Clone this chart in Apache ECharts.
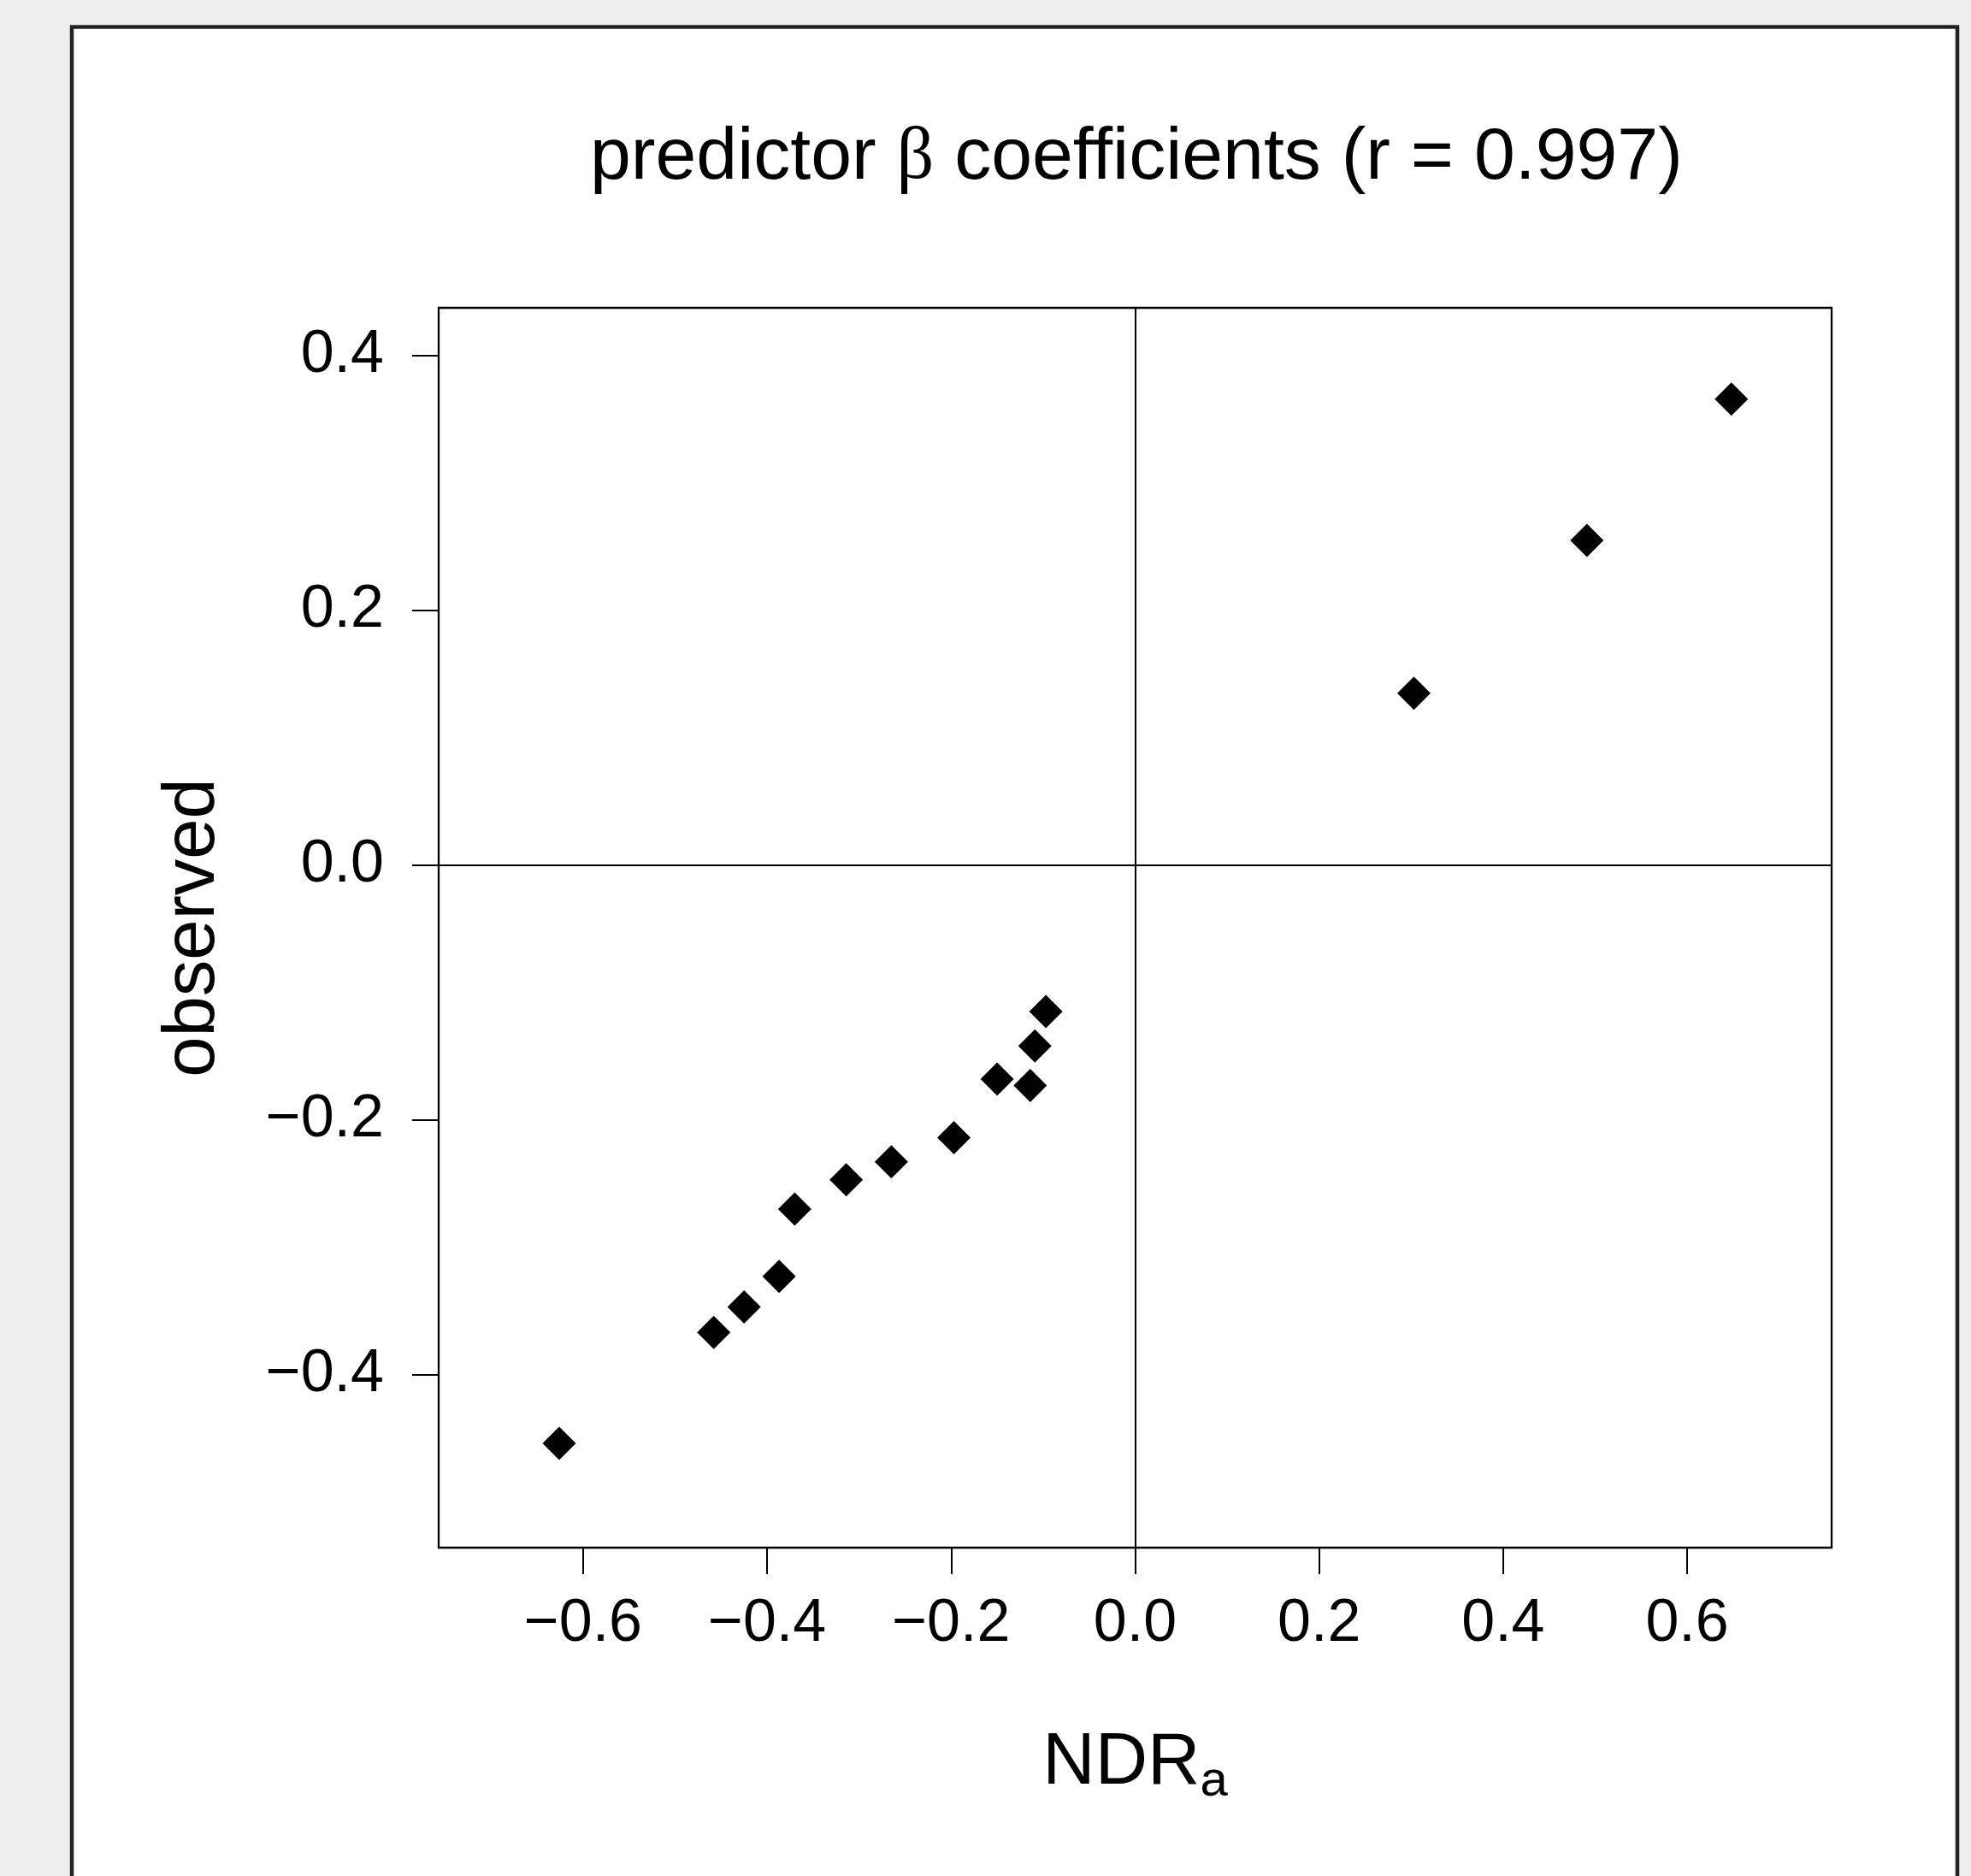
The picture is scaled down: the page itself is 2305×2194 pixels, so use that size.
<!DOCTYPE html>
<html>
<head>
<meta charset="utf-8">
<script src="https://cdn.jsdelivr.net/npm/echarts@6/dist/echarts.min.js"></script>
<style>
html,body{margin:0;padding:0;background:#eeeeee;}
#chart{width:2305px;height:2194px;}
</style>
</head>
<body>
<div id="chart"></div>
<script>
// ---- data ----
var ndrA = [-0.626, -0.458, -0.425, -0.387, -0.370, -0.314, -0.265, -0.197, -0.150, -0.114, -0.109, -0.097, 0.303, 0.491, 0.648];
var observed = [-0.454, -0.367, -0.347, -0.323, -0.270, -0.247, -0.233, -0.214, -0.168, -0.173, -0.142, -0.115, 0.135, 0.255, 0.366];
var xTicks = [-0.6, -0.4, -0.2, 0.0, 0.2, 0.4, 0.6];
var yTicks = [-0.4, -0.2, 0.0, 0.2, 0.4];
var titleParts = ['predictor ', 'β', ' coefficients (r = 0.997)'];
var xTitle = ['NDR', 'a'];
var yTitle = 'observed';

var points = ndrA.map(function (x, i) { return [x, observed[i]]; });
function fmt(v) { return v.toFixed(1).replace('-', '\u2212'); }

var FONT = 'Liberation Sans, Arial, Helvetica, sans-serif';
var chart = echarts.init(document.getElementById('chart'), null, {renderer: 'canvas'});
chart.setOption({
  backgroundColor: '#eeeeee',
  animation: false,
  graphic: [{
    type: 'rect',
    z: -10,
    silent: true,
    shape: {x: 84, y: 31.5, width: 2205, height: 2300},
    style: {fill: '#ffffff', stroke: '#222222', lineWidth: 4.5}
  }],
  title: {
    left: 690,
    top: 142,
    padding: 0,
    text: '{a|' + titleParts[0] + '}{b|' + titleParts[1] + '}{a|' + titleParts[2] + '}',
    textStyle: {
      fontWeight: 'normal',
      rich: {
        a: {fontFamily: FONT, fontSize: 86, fontWeight: 'normal', color: '#000'},
        b: {fontFamily: 'Liberation Serif, Times New Roman, serif', fontSize: 86, fontWeight: 'normal', color: '#000'}
      }
    }
  },
  grid: {
    left: 513, top: 360, width: 1629, height: 1450,
    show: true, borderColor: '#000', borderWidth: 2.3, backgroundColor: 'transparent'
  },
  xAxis: {
    type: 'value',
    min: -0.757, max: 0.757,
    splitLine: {show: false},
    axisLine: {show: false, onZero: false},
    axisTick: {show: true, inside: false, length: 31, customValues: xTicks, lineStyle: {color: '#000', width: 2}},
    axisLabel: {show: true, customValues: xTicks, margin: 55, formatter: fmt,
      fontFamily: FONT, fontSize: 70, color: '#000'},
    name: '{m|' + xTitle[0] + '}{s|' + xTitle[1] + '}',
    nameLocation: 'middle',
    nameGap: 203,
    nameTextStyle: {
      rich: {
        m: {fontFamily: FONT, fontSize: 85, color: '#000', lineHeight: 100},
        s: {fontFamily: FONT, fontSize: 58, color: '#000', lineHeight: 51, verticalAlign: 'bottom'}
      }
    }
  },
  yAxis: {
    type: 'value',
    min: -0.536, max: 0.4377,
    splitLine: {show: false},
    axisLine: {show: false, onZero: false},
    axisTick: {show: true, inside: false, length: 31, customValues: yTicks, lineStyle: {color: '#000', width: 2}},
    axisLabel: {show: true, customValues: yTicks, margin: 64, formatter: fmt,
      fontFamily: FONT, fontSize: 70, color: '#000'},
    name: yTitle,
    nameLocation: 'middle',
    nameRotate: 90,
    nameGap: 244,
    nameTextStyle: {fontFamily: FONT, fontSize: 85, color: '#000'}
  },
  series: [{
    type: 'scatter',
    data: points,
    symbol: 'diamond',
    symbolSize: 39,
    itemStyle: {color: '#000', opacity: 1},
    markLine: {
      silent: true,
      symbol: ['none', 'none'],
      label: {show: false},
      lineStyle: {color: '#000', width: 2, type: 'solid'},
      data: [{xAxis: 0}, {yAxis: 0}]
    }
  }]
});
</script>
</body>
</html>
